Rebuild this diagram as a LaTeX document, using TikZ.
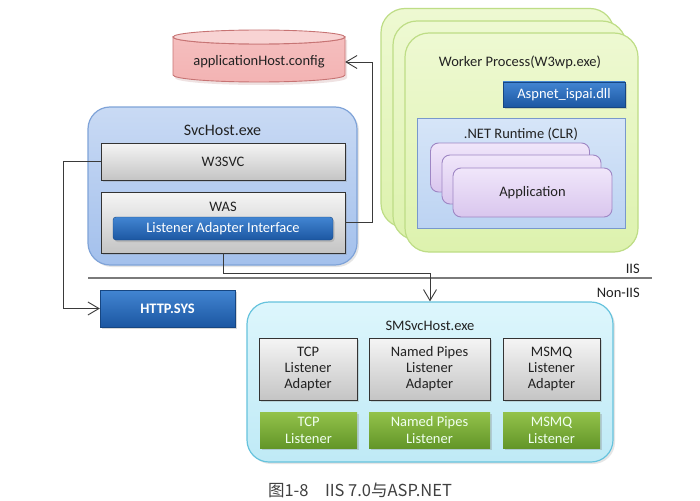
\documentclass[tikz,border=0pt]{standalone}
\usepackage{fontspec}
\setmainfont{Carlito}
\newfontfamily\cjkfont{Noto Sans CJK SC}
\usetikzlibrary{shadows,arrows.meta}
\definecolor{txt}{HTML}{222222}
\definecolor{conn}{HTML}{3A3A3A}
\definecolor{cylfill}{HTML}{F3B3B3}
\definecolor{cyltop}{HTML}{F8D3D3}
\definecolor{cylline}{HTML}{C77474}
\definecolor{svcA}{HTML}{C9DAF4}
\definecolor{svcB}{HTML}{A3C0EC}
\definecolor{svcline}{HTML}{7FA3D8}
\definecolor{blueA}{HTML}{4285D2}
\definecolor{blueB}{HTML}{1C57A2}
\definecolor{wpA}{HTML}{EEF9D2}
\definecolor{wpB}{HTML}{DDF2AE}
\definecolor{wpline}{HTML}{BEDD86}
\definecolor{clrA}{HTML}{D6E5F8}
\definecolor{clrB}{HTML}{BCD3F2}
\definecolor{clrline}{HTML}{7898CC}
\definecolor{appA}{HTML}{F0E6FA}
\definecolor{appB}{HTML}{D9C6EE}
\definecolor{appline}{HTML}{9E86C4}
\definecolor{smsA}{HTML}{DDF6FC}
\definecolor{smsB}{HTML}{BFEAF6}
\definecolor{smsline}{HTML}{66C3DD}
\definecolor{grnA}{HTML}{93C24B}
\definecolor{grnB}{HTML}{639628}
\definecolor{sepline}{HTML}{7A7A7A}
\begin{document}
\begin{tikzpicture}[x=1pt,y=-1pt,
  every node/.style={font=\fontsize{14.5}{16}\selectfont, inner sep=0pt, align=center, text=txt},
  graybox/.style={draw=black!80, line width=0.9pt, top color=black!4, bottom color=black!23,
    drop shadow={shadow xshift=1.5pt, shadow yshift=-2pt, opacity=0.25}},
  bluebox/.style={draw=blueB!80!black, line width=0.4pt, top color=blueA, bottom color=blueB, text=white,
    drop shadow={shadow xshift=1.5pt, shadow yshift=-2pt, opacity=0.3}},
  greenbox/.style={draw=none, top color=grnA, bottom color=grnB, text=white!94!green,
    font=\fontsize{14.5}{17}\selectfont,
    drop shadow={shadow xshift=1.5pt, shadow yshift=-2pt, opacity=0.3}},
  wpbox/.style={draw=wpline, line width=1.2pt, rounded corners=24pt, top color=wpA, bottom color=wpB,
    minimum width=233pt, minimum height=219pt},
  appbox/.style={draw=appline, line width=0.9pt, rounded corners=8pt, top color=appA, bottom color=appB,
    minimum width=159pt, minimum height=49pt},
  arr/.style={draw=conn, line width=0.9pt, -{Straight Barb[length=11pt, width=13pt, line width=0.9pt]}},
]
\useasboundingbox (0,0) rectangle (700,500);
\fill[white] (0,0) rectangle (700,500);

% applicationHost.config cylinder
\fill[cylfill!80!black, opacity=0.25] (175,40) -- (175,78) arc[start angle=180, end angle=0, x radius=86, y radius=7] -- (347,40) -- cycle;
\draw[cylline, line width=0.9pt, top color=cylfill!85, bottom color=cylfill] (173,37) -- (173,75) arc[start angle=180, end angle=0, x radius=86, y radius=7] -- (345,37) arc[start angle=0, end angle=180, x radius=86, y radius=7] -- cycle;
\draw[cylline, line width=0.9pt, fill=cyltop] (259,37) ellipse[x radius=86, y radius=7];
\node[minimum width=172pt, minimum height=40pt] (cfg) at (259,62) {applicationHost.config};

% SvcHost.exe
\node[draw=svcline, line width=1.2pt, rounded corners=22pt, top color=svcA, bottom color=svcB,
  minimum width=269pt, minimum height=158pt,
  drop shadow={shadow xshift=2pt, shadow yshift=-2pt, opacity=0.2}] (svchost) at (222.5,186) {};
\node[font=\fontsize{16}{18}\selectfont] (svctxt) at (222.5,130) {SvcHost.exe};
\node[graybox, minimum width=244pt, minimum height=37pt] (w3svc) at (223,161.5) {W3SVC};
\node[graybox, minimum width=244pt, minimum height=61pt] (was) at (223,222.5) {};
\node (wastxt) at (223,207) {WAS};
\node[bluebox, rounded corners=3pt, minimum width=220pt, minimum height=23pt] (lai) at (223,228.5) {Listener Adapter Interface};

% Worker process stack
\node[wpbox] (wp1) at (497.5,118) {};
\node[wpbox] (wp2) at (509.5,130.5) {};
\node[wpbox] (wp3) at (521.5,142.5) {};
\node (wptxt) at (520,62) {Worker Process(W3wp.exe)};
\node[bluebox, minimum width=122pt, minimum height=25pt] (aspnet) at (564,94.5) {Aspnet\_ispai.dll};
\node[draw=clrline, line width=1pt, top color=clrA, bottom color=clrB,
  minimum width=208pt, minimum height=110pt] (clr) at (521,173) {};
\node (clrtxt) at (521,134) {.NET Runtime (CLR)};
\node[appbox] (app1) at (510,167.5) {};
\node[appbox] (app2) at (521.5,179.5) {};
\node[appbox] (app3) at (532.5,192.5) {Application};

% IIS separator
\coordinate (sepL) at (88,278);
\coordinate (sepR) at (652,278);
\draw[sepline, line width=1.3pt] (sepL) -- (sepR);
\node[anchor=east] (iis) at (640,269) {IIS};
\node[anchor=east] (noniis) at (640,293) {Non-IIS};

% HTTP.SYS
\node[bluebox, font=\bfseries\fontsize{14.5}{16}\selectfont, minimum width=135pt, minimum height=37pt] (http) at (167.5,308.5) {HTTP.SYS};

% SMSvcHost.exe
\node[draw=smsline, line width=1.2pt, rounded corners=22pt, top color=smsA, bottom color=smsB,
  minimum width=366pt, minimum height=160pt,
  drop shadow={shadow xshift=2pt, shadow yshift=-2pt, opacity=0.2}] (sms) at (430,382) {};
\node (smstxt) at (430,326) {SMSvcHost.exe};
\node[graybox, minimum width=98pt, minimum height=62pt] (tcpa) at (308,369) {TCP\\Listener\\Adapter};
\node[graybox, minimum width=121pt, minimum height=62pt] (npa) at (429.5,369) {Named Pipes\\Listener\\Adapter};
\node[graybox, minimum width=97pt, minimum height=62pt] (msa) at (551.5,369) {MSMQ\\Listener\\Adapter};
\node[greenbox, minimum width=97pt, minimum height=36pt] (tcpl) at (308.5,430) {TCP\\Listener};
\node[greenbox, minimum width=121pt, minimum height=36pt] (npl) at (429.5,430) {Named Pipes\\Listener};
\node[greenbox, minimum width=97pt, minimum height=36pt] (msl) at (551.5,430) {MSMQ\\Listener};

% connectors
\draw[arr] (was.east) -- ++(27,0) |- (cfg.east);
\draw[arr] (w3svc.west) -- ++(-37,0) |- (http.west);
\draw[arr] (was.south) -- ++(0,20) -| (sms.north);

% caption
\node[font=\cjkfont\fontsize{16.5}{18}\selectfont, text=black!75] (cap) at (360,490) {图1-8\hspace{1em}IIS 7.0与ASP.NET};
\end{tikzpicture}
\end{document}
